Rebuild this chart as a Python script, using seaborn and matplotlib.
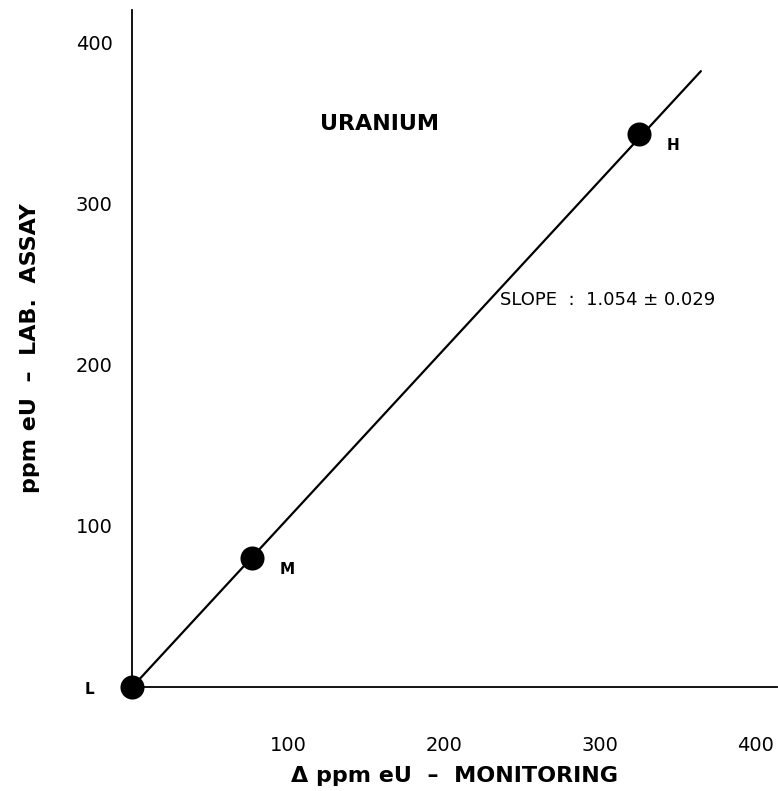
import matplotlib
matplotlib.use("Agg")
import matplotlib.pyplot as plt
import seaborn as sns
import pandas as pd

# Data
sample_labels = ["L", "M", "H"]
monitoring = [0, 77, 325]
lab_assay = [0, 80, 343]
fit_x = [0, 365]
fit_y = [0, 382]
x_ticks = [100, 200, 300, 400]
y_ticks = [100, 200, 300, 400]

sns.set_theme(style="white")
plt.rcParams['font.family'] = ['DejaVu Sans']
plt.rcParams['text.color'] = 'black'
plt.rcParams['axes.labelcolor'] = 'black'

fig = plt.figure(figsize=(7.78, 7.91), dpi=100)
ax = fig.add_axes([0.170, 0.1315, 0.829, 0.856])

pts = pd.DataFrame({"x": monitoring, "y": lab_assay, "label": sample_labels})
fit = pd.DataFrame({"x": fit_x, "y": fit_y})

sns.lineplot(data=fit, x="x", y="y", ax=ax, color="black", linewidth=1.6)
sns.scatterplot(data=pts, x="x", y="y", ax=ax, color="black", s=300,
                edgecolor="black", linewidth=0, zorder=5, clip_on=False)

offsets = {"L": (-34, -2), "M": (20, -8), "H": (20, -8)}
for _, r in pts.iterrows():
    dx, dy = offsets[r["label"]]
    ax.annotate(r["label"], (r["x"], r["y"]), xytext=(dx, dy),
                textcoords="offset points", ha="left", va="center",
                fontsize=11, fontweight="bold", color="black",
                annotation_clip=False)

ax.set_xlim(0, 414)
ax.set_ylim(0, 420)
ax.set_xticks(x_ticks)
ax.set_yticks(y_ticks)
ax.tick_params(direction="in", length=8, width=1.2, colors="black",
               labelsize=14)
ax.tick_params(axis="x", pad=35)
ax.tick_params(axis="y", pad=14)

for s in ["top", "right"]:
    ax.spines[s].set_visible(False)
for s in ["left", "bottom"]:
    ax.spines[s].set_color("black")
    ax.spines[s].set_linewidth(1.3)

ax.set_xlabel("Δ ppm eU  –  MONITORING", fontsize=16, fontweight="bold",
              labelpad=8)
ax.set_ylabel("ppm eU  –  LAB.  ASSAY", fontsize=16, fontweight="bold",
              labelpad=26)

ax.text(159, 349, "URANIUM", fontsize=16, fontweight="bold",
        ha="center", va="center", color="black")
ax.text(236, 240, "SLOPE  :  1.054 ± 0.029", fontsize=13,
        ha="left", va="center", color="black")

fig.savefig("out.png", dpi=100)
